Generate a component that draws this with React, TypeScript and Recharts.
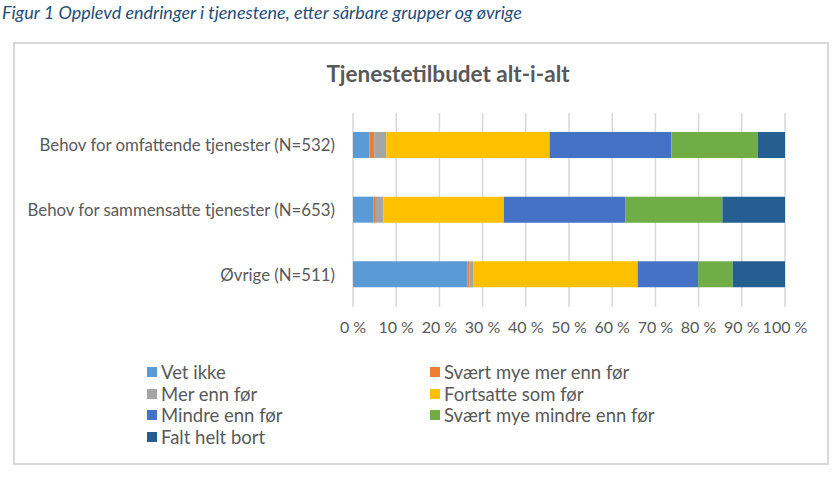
import React from 'react';
import { BarChart, Bar, XAxis, YAxis, CartesianGrid } from 'recharts';

const categories = [
  'Behov for omfattende tjenester (N=532)',
  'Behov for sammensatte tjenester (N=653)',
  'Øvrige (N=511)',
];
const vetIkke = [3.8, 4.8, 26.5];
const svaertMyeMer = [1.1, 0.5, 0.4];
const merEnnFor = [2.8, 1.7, 0.9];
const fortsatte = [37.8, 27.9, 38.1];
const mindre = [28.2, 28.2, 14.0];
const svaertMyeMindre = [20.0, 22.4, 8.0];
const faltHeltBort = [6.3, 14.5, 12.1];
const xTicks = [0, 10, 20, 30, 40, 50, 60, 70, 80, 90, 100];

const seriesNames = [
  'Vet ikke',
  'Svært mye mer enn før',
  'Mer enn før',
  'Fortsatte som før',
  'Mindre enn før',
  'Svært mye mindre enn før',
  'Falt helt bort',
];
const seriesColors = ['#5B9BD5', '#ED7D31', '#A5A5A5', '#FFC000', '#4472C4', '#70AD47', '#255E91'];
const seriesValues = [vetIkke, svaertMyeMer, merEnnFor, fortsatte, mindre, svaertMyeMindre, faltHeltBort];

const data = categories.map((name, i) => {
  const row: Record<string, string | number> = { name };
  seriesNames.forEach((s, j) => {
    row[s] = seriesValues[j][i];
  });
  return row;
});

const FONT = 'Lato, "Liberation Sans", sans-serif';
const TEXT = '#595959';

const LegendBlock = () => (
  <div style={{ position: 'absolute', left: 0, top: 362, width: 832, height: 100, fontFamily: FONT, fontSize: 18.5, color: TEXT }}>
    {seriesNames.map((s, i) => {
      const col = i % 2;
      const row = Math.floor(i / 2);
      return (
        <div
          key={s}
          style={{
            position: 'absolute',
            left: col === 0 ? 147 : 430,
            top: row * 21.7,
            display: 'flex',
            alignItems: 'center',
            whiteSpace: 'nowrap',
            height: 20,
          }}
        >
          <span style={{ display: 'inline-block', width: 10, height: 10, background: seriesColors[i], marginRight: 4 }} />
          <span>{s}</span>
        </div>
      );
    })}
  </div>
);

export default function App() {
  return (
    <div style={{ position: 'absolute', left: 0, top: 0, width: 832, height: 482, background: '#fff', overflow: 'hidden' }}>
      <div
        style={{
          position: 'absolute',
          left: 2,
          top: 1,
          fontFamily: FONT,
          fontStyle: 'italic',
          fontSize: 18,
          color: '#1F4E79',
          whiteSpace: 'nowrap',
        }}
      >
        Figur 1 Opplevd endringer i tjenestene, etter sårbare grupper og øvrige
      </div>
      <div
        style={{
          position: 'absolute',
          left: 13,
          top: 42,
          width: 812,
          height: 419,
          border: '2px solid #D9D9D9',
        }}
      />
      <div
        style={{
          position: 'absolute',
          left: 248,
          width: 400,
          top: 60,
          textAlign: 'center',
          fontFamily: FONT,
          fontWeight: 'bold',
          fontSize: 22.5,
          color: TEXT,
        }}
      >
        Tjenestetilbudet alt-i-alt
      </div>
      <div style={{ position: 'absolute', left: 0, top: 0 }}>
        <BarChart
          width={832}
          height={482}
          data={data}
          layout="vertical"
          margin={{ top: 113, right: 47, left: 0, bottom: 145 }}
          barSize={26}
        >
          <CartesianGrid horizontal={false} vertical stroke="#D9D9D9" strokeWidth={1.5} />
          <XAxis
            type="number"
            domain={[0, 100]}
            ticks={xTicks}
            tickFormatter={(v) => `${v} %`}
            axisLine={false}
            tickLine={false}
            tickSize={0}
            tickMargin={15}
            height={30}
            interval={0}
            tick={{ fill: TEXT, fontSize: 16, fontFamily: FONT }}
          />
          <YAxis
            type="category"
            dataKey="name"
            width={353}
            axisLine={false}
            tickLine={false}
            tickSize={0}
            tickMargin={18}
            tick={{ fill: TEXT, fontSize: 16.8, fontFamily: FONT }}
          />
          {seriesNames.map((s, i) => (
            <Bar key={s} dataKey={s} stackId="a" fill={seriesColors[i]} isAnimationActive={false} />
          ))}
        </BarChart>
      </div>
      <LegendBlock />
    </div>
  );
}
